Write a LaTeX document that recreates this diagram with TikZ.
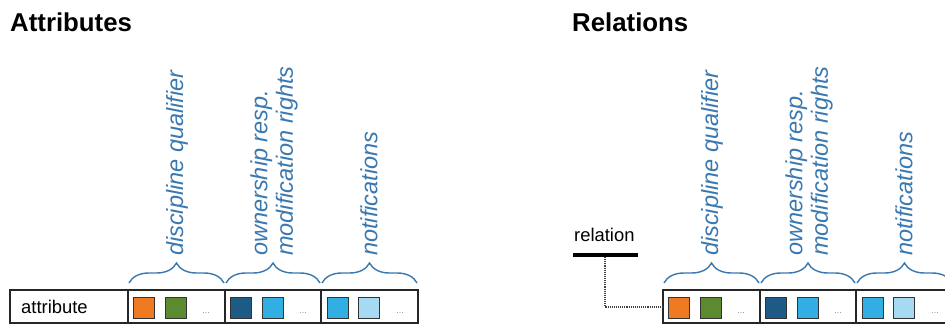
\documentclass[tikz,border=0pt]{standalone}
\usepackage{fontspec}
\setmainfont{Liberation Sans}
\usetikzlibrary{decorations.pathreplacing}
\definecolor{lblue}{HTML}{3A78B0}
\definecolor{corange}{HTML}{EE7A22}
\definecolor{cgreen}{HTML}{5B8A30}
\definecolor{cdblue}{HTML}{1D5A86}
\definecolor{cblue}{HTML}{33AEE3}
\definecolor{cpale}{HTML}{A6D9F2}
\newcommand\blockgroups[1]{%
  \draw[rowline] (128,290) -- (128,323);
  \draw[rowline] (225,290) -- (225,323);
  \draw[rowline] (321,290) -- (321,323);
  \draw[brc] (129,283) -- (224,283);
  \draw[brc] (226,283) -- (320,283);
  \draw[brc] (322,283) -- (417,283);
  \node[lbl] (#1lA) at (177,256) {discipline qualifier};
  \node[lbl] (#1lB) at (274,256) {ownership resp.\\modification rights};
  \node[lbl] (#1lC) at (369,256) {notifications};
  \node[sq, fill=corange] (#1sA) at (133,297) {};
  \node[sq, fill=cgreen]  (#1sB) at (165,297) {};
  \node[dotsty] (#1dA) at (206,313) {...};
  \node[sq, fill=cdblue]  (#1sC) at (230,297) {};
  \node[sq, fill=cblue]   (#1sD) at (262,297) {};
  \node[dotsty] (#1dB) at (303,313) {...};
  \node[sq, fill=cblue]   (#1sE) at (327,297) {};
  \node[sq, fill=cpale]   (#1sF) at (358,297) {};
  \node[dotsty] (#1dC) at (400,313) {...};
}
\begin{document}
\begin{tikzpicture}[x=1pt,y=-1pt,
  rowline/.style={draw=black!85, line width=1.4pt},
  sq/.style={draw=black!80, line width=1.3pt, minimum size=21pt, inner sep=0pt, anchor=north west},
  brc/.style={draw=lblue, line width=1.4pt, decorate, decoration={brace, amplitude=20pt}},
  lbl/.style={text=lblue, font=\fontsize{23.5}{25.5}\selectfont\itshape, rotate=90, anchor=west, inner sep=0pt, align=left},
  ttl/.style={font=\fontsize{25.8}{28}\selectfont\bfseries, anchor=base west, inner sep=0pt},
  txt/.style={font=\fontsize{18.4}{20}\selectfont, anchor=base west, inner sep=0pt},
  dotsty/.style={text=black!45, font=\fontsize{9}{10}\selectfont, inner sep=0pt}
]
\useasboundingbox (0,0) rectangle (945,326);
\fill[white] (0,0) rectangle (945,326);
% titles
\node[ttl] (tattr) at (10,32) {Attributes};
\node[ttl] (trel) at (572,32) {Relations};
% left block
\draw[rowline] (10,290) rectangle (418,323);
\node[txt] (attr) at (21,313) {attribute};
\blockgroups{L}
% right block
\begin{scope}[xshift=535pt]
  \draw[rowline] (128,290) rectangle (418,323);
  \coordinate (rrowin) at (128,307);
  \blockgroups{R}
\end{scope}
\node[txt] (rel) at (574,241) {relation};
\draw[line width=4pt] (573,255) -- (638,255);
\coordinate (relb) at (605,257);
\draw[densely dotted, line width=1.1pt, black!75] (relb) |- (rrowin);
\end{tikzpicture}
\end{document}
